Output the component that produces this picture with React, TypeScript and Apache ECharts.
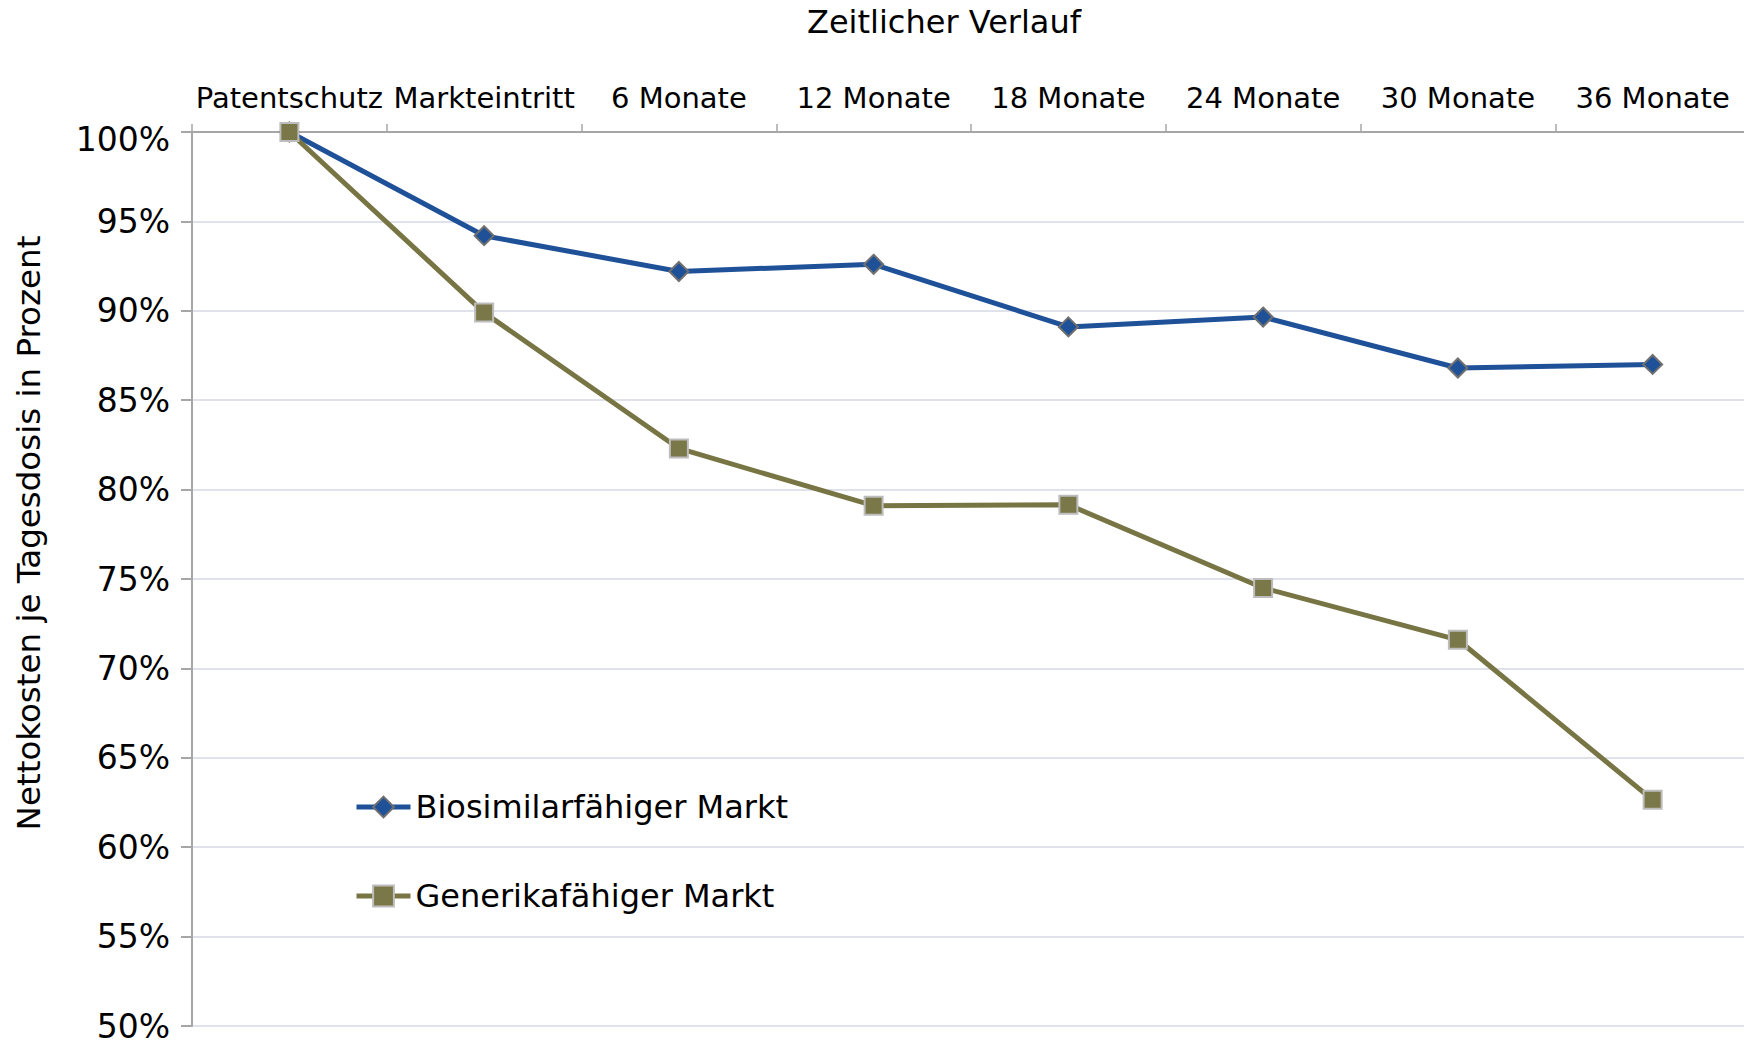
import React, { useEffect, useRef } from "react";
import * as echarts from "echarts";

const categories = [
  "Patentschutz",
  "Markteintritt",
  "6 Monate",
  "12 Monate",
  "18 Monate",
  "24 Monate",
  "30 Monate",
  "36 Monate",
];
const biosimilarValues = [100, 94.2, 92.2, 92.6, 89.1, 89.65, 86.8, 87.0];
const generikaValues = [100, 89.9, 82.3, 79.1, 79.15, 74.5, 71.6, 62.65];
const seriesNames = ["Biosimilarfähiger Markt", "Generikafähiger Markt"];
const xTitle = "Zeitlicher Verlauf";
const yTitle = "Nettokosten je Tagesdosis in Prozent";

const FONT = "DejaVu Sans";

export default function App() {
  const ref = useRef<HTMLDivElement>(null);
  useEffect(() => {
    if (!ref.current) return;
    const chart = echarts.init(ref.current, null, { renderer: "svg" });
    chart.setOption({
      animation: false,
      backgroundColor: "#ffffff",
      textStyle: { fontFamily: FONT },
      grid: { left: 192, right: 10, top: 132, bottom: 18, containLabel: false },
      graphic: [
        {
          type: "text",
          x: 944,
          y: 22,
          style: {
            text: xTitle,
            font: `32px "${FONT}"`,
            fill: "#000",
            textAlign: "center",
            textVerticalAlign: "middle",
          },
        },
        {
          type: "text",
          x: 29,
          y: 533,
          rotation: Math.PI / 2,
          style: {
            text: yTitle,
            font: `32.5px "${FONT}"`,
            fill: "#000",
            textAlign: "center",
            textVerticalAlign: "middle",
          },
        },
      ],
      legend: {
        orient: "vertical",
        left: 354,
        top: 789,
        padding: 0,
        itemWidth: 54,
        itemHeight: 26,
        itemGap: 53,
        lineStyle: { width: 5 },
        textStyle: { fontSize: 32, fontFamily: FONT, color: "#000", lineHeight: 36 },
        data: seriesNames,
      },
      xAxis: {
        type: "category",
        position: "top",
        data: categories,
        boundaryGap: true,
        axisLine: { show: true, lineStyle: { color: "#a6a6a6", width: 2 } },
        axisTick: { show: true, length: 8, lineStyle: { color: "#a6a6a6", width: 1.5 } },
        axisLabel: { fontSize: 29, fontFamily: FONT, color: "#000", margin: 20, interval: 0 },
        splitLine: { show: false },
      },
      yAxis: {
        type: "value",
        min: 50,
        max: 100,
        interval: 5,
        axisLine: { show: true, lineStyle: { color: "#a6a6a6", width: 2 } },
        axisTick: { show: true, length: 11, lineStyle: { color: "#a6a6a6", width: 2 } },
        axisLabel: {
          fontSize: 33,
          fontFamily: FONT,
          color: "#000",
          margin: 22,
          formatter: (v: number) => (v === 100 ? "{top|" + v + "%}" : v + "%"),
          rich: {
            top: { fontSize: 33, fontFamily: FONT, color: "#000", padding: [15, 0, 0, 0] },
          },
        },
        splitLine: { show: true, lineStyle: { color: "#dfe2ea", width: 2 } },
      },
      series: [
        {
          name: seriesNames[0],
          type: "line",
          data: biosimilarValues,
          symbol: "diamond",
          symbolSize: 19,
          lineStyle: { color: "#1f5199", width: 5 },
          itemStyle: { color: "#1f5199", borderColor: "#707070", borderWidth: 2 },
          z: 2,
        },
        {
          name: seriesNames[1],
          type: "line",
          data: generikaValues,
          symbol: "rect",
          symbolSize: 18,
          lineStyle: { color: "#787545", width: 5 },
          itemStyle: { color: "#7a7748", borderColor: "#bdbdbd", borderWidth: 2 },
          z: 3,
        },
      ],
    });
    return () => chart.dispose();
  }, []);
  return (
    <div
      ref={ref}
      style={{ position: "fixed", left: 0, top: 0, width: 1760, height: 1044 }}
    />
  );
}
